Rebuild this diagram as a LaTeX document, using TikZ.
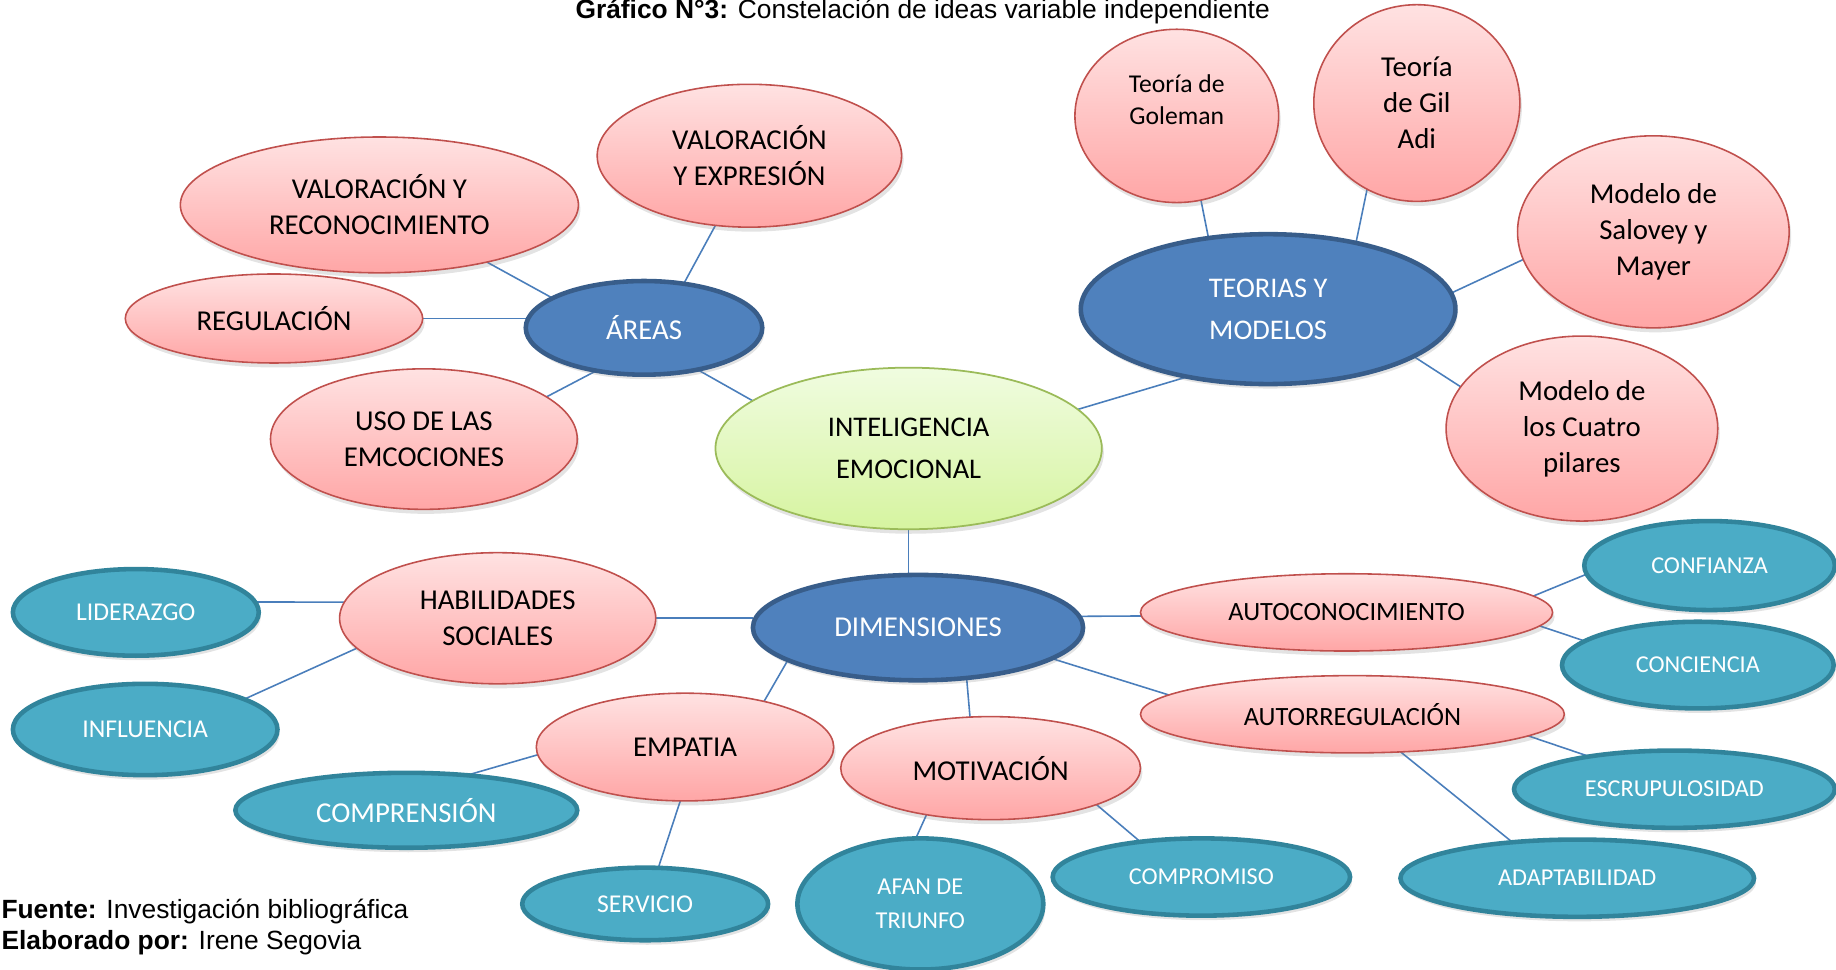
\documentclass[tikz,border=0pt]{standalone}
\usepackage{fontspec}
\setmainfont{Carlito}
\newfontfamily\arialfont{Liberation Sans}
\usetikzlibrary{
  shapes.geometric,
  backgrounds,
  shadows
}
\definecolor{ideaLine}{HTML}{C0504D}
\definecolor{ideaTop}{HTML}{FFE2E2}
\definecolor{ideaBot}{HTML}{FFA6A6}
\definecolor{hubFill}{HTML}{4F81BD}
\definecolor{hubLine}{HTML}{385D8A}
\definecolor{coreTop}{HTML}{F0FCE0}
\definecolor{coreBot}{HTML}{D6F4A0}
\definecolor{coreLine}{HTML}{9BBB59}
\definecolor{leafFill}{HTML}{4BACC6}
\definecolor{leafLine}{HTML}{31849B}
\definecolor{linkBlue}{HTML}{4A7EBB}
\newcommand{\fsmain}{\fontsize{16.4}{20.6}\selectfont}
\newcommand{\fswide}{\fontsize{16.2}{24}\selectfont}
\newcommand{\fsleaf}{\fontsize{13.8}{19.3}\selectfont}
\newcommand{\fsmid}{\fontsize{14.6}{18.6}\selectfont}
\tikzset{
  ideanode/.style={
    ellipse, inner sep=0pt, outer sep=0pt, align=center, font=\fsmain
  },
  sz/.style 2 args={minimum width=#1*0.4684mm, minimum height=#2*0.4684mm},
  softshadow/.style={drop shadow={opacity=0.22, shadow xshift=0.4mm, shadow yshift=-0.9mm}},
  idea/.style={ideanode, draw=ideaLine, line width=0.9pt, top color=ideaTop, bottom color=ideaBot, softshadow},
  hub/.style={ideanode, draw=hubLine, line width=2.6pt, fill=hubFill, text=white, softshadow},
  core/.style={ideanode, draw=coreLine, line width=1pt, top color=coreTop, bottom color=coreBot, font=\fswide, softshadow},
  leaf/.style={ideanode, draw=leafLine, line width=2.6pt, fill=leafFill, text=white, font=\fsleaf, softshadow},
  link/.style={draw=linkBlue, line width=0.9pt},
  caption/.style={font=\arialfont\fontsize{15}{18}\selectfont, inner sep=0pt}
}

\begin{document}
\begin{tikzpicture}[x=0.2342mm, y=-0.2342mm]
  \useasboundingbox (0,0) rectangle (1568,828);

  \node[caption, anchor=base] (titulo) at (788,16)
    {\textbf{Gráfico N°3:} Constelación de ideas variable independiente};

  % centro
  \node[core, sz={165}{69}] (ie) at (776,383) {INTELIGENCIA\\EMOCIONAL};

  % areas
  \node[hub, sz={101}{40}] (areas) at (550,280) {ÁREAS};
  \node[idea, sz={170}{58}] (vyr) at (324,175) {VALORACIÓN Y\\RECONOCIMIENTO};
  \node[idea, sz={130}{61}] (vye) at (640,133) {VALORACIÓN\\Y EXPRESIÓN};
  \node[idea, sz={127}{38}] (regul) at (234,272) {REGULACIÓN};
  \node[idea, sz={131}{60}] (uso) at (362,375) {USO DE LAS\\EMCOCIONES};

  % teorias y modelos
  \node[hub, sz={160}{64}, font=\fswide] (teorias) at (1083,264) {TEORIAS Y\\MODELOS};
  \node[idea, sz={87}{74}, font=\fsmid] (goleman) at (1005,99) {Teoría de\\Goleman\\\mbox{}};
  \node[idea, sz={88}{84}] (giladi) at (1210,88) {Teoría\\de Gil\\Adi};
  \node[idea, sz={116}{82}] (salovey) at (1412,198) {Modelo de\\Salovey y\\Mayer};
  \node[idea, sz={116}{79}] (cuatro) at (1351,366) {Modelo de\\los Cuatro\\pilares};

  % dimensiones
  \node[hub, sz={141}{45}] (dim) at (784,536) {DIMENSIONES};
  \node[idea, sz={135}{56}] (habil) at (425,528) {HABILIDADES\\SOCIALES};
  \node[leaf, sz={105}{37}, font=\fontsize{14.6}{18}\selectfont] (lider) at (116,523) {LIDERAZGO};
  \node[leaf, sz={113}{39}, font=\fontsize{14.6}{18}\selectfont] (influ) at (124,623) {INFLUENCIA};
  \node[idea, sz={127}{46}] (empatia) at (585,638) {EMPATIA};
  \node[leaf, sz={146}{32}, font=\fsmain] (compren) at (347,692) {COMPRENSIÓN};
  \node[leaf, sz={105}{31}, font=\fontsize{14.6}{18}\selectfont] (servicio) at (551,772) {SERVICIO};
  \node[idea, sz={128}{44}] (motiv) at (846,656) {MOTIVACIÓN};
  \node[leaf, sz={105}{56}] (afan) at (786,772) {AFAN DE\\TRIUNFO};
  \node[leaf, sz={127}{33}] (comprom) at (1026,749) {COMPROMISO};
  \node[idea, sz={176}{33}, font=\fontsize{15}{18}\selectfont] (autocon) at (1150,523) {AUTOCONOCIMIENTO};
  \node[idea, sz={181}{33}, font=\fontsize{15}{18}\selectfont] (autoreg) at (1155,610) {AUTORREGULACIÓN};
  \node[leaf, sz={107}{38}] (confi) at (1460,483) {CONFIANZA};
  \node[leaf, sz={116}{37}] (concien) at (1450,568) {CONCIENCIA};
  \node[leaf, sz={137}{33}] (escrup) at (1430,674) {ESCRUPULOSIDAD};
  \node[leaf, sz={151}{33}] (adapt) at (1347,750) {ADAPTABILIDAD};

  \node[caption, anchor=base west] (fuente) at (1,784) {\textbf{Fuente:} Investigación bibliográfica};
  \node[caption, anchor=base west] (elab) at (1,811) {\textbf{Elaborado por:} Irene Segovia};

  \begin{scope}[on background layer]
    \draw[link] (areas.162) -- (vyr.-28);
    \draw[link] (areas.48) -- (vye.244);
    \draw[link] (regul.east) -- (regul.east -| areas.west);
    \draw[link] (areas.222) -- (uso.19);
    \draw[link] (areas.322) -- (ie.163);
    \draw[link] (ie.13) -- (teorias.220);
    \draw[link] (teorias.130) -- (goleman.286);
    \draw[link] (teorias.37) -- (giladi.240);
    \draw[link] (teorias.5) -- (salovey.192);
    \draw[link] (teorias.342) -- (cuatro.161);
    \draw[link] (ie.south) -- (ie.south |- dim.north);
    \draw[link] (habil.east) -- (habil.east -| dim.west);
    \draw[link] (habil.174) -- (lider.5);
    \draw[link] (habil.192) -- (influ.17);
    \draw[link] (dim.194) -- (empatia.30);
    \draw[link] (empatia.183) -- (compren.30);
    \draw[link] (empatia.265) -- (servicio.70);
    \draw[link] (dim.314) -- (motiv.112);
    \draw[link] (motiv.216) -- (afan.94);
    \draw[link] (motiv.341) -- (comprom.150);
    \draw[link] (dim.4) -- (autocon.181);
    \draw[link] (dim.347) -- (autoreg.174);
    \draw[link] (autocon.5) -- (confi.184);
    \draw[link] (autocon.356) -- (concien.168);
    \draw[link] (autoreg.353) -- (escrup.159);
    \draw[link] (autoreg.322) -- (adapt.151);
  \end{scope}
\end{tikzpicture}
\end{document}
